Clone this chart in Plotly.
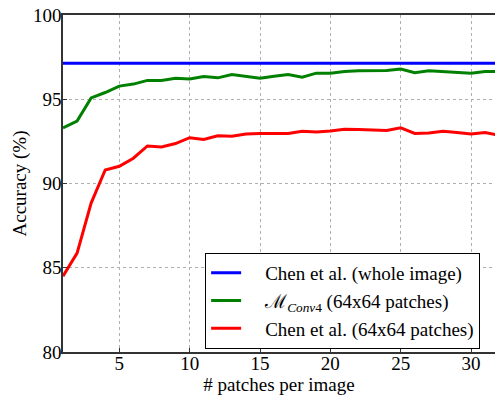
import plotly.graph_objects as go

patches = list(range(1, 33))
chen_whole = 97.13
mconv4 = [93.3, 93.7, 95.08, 95.4, 95.78, 95.9, 96.12, 96.12, 96.24, 96.2,
          96.35, 96.27, 96.47, 96.37, 96.25, 96.37, 96.47, 96.31, 96.55, 96.55,
          96.65, 96.69, 96.71, 96.71, 96.79, 96.57, 96.69, 96.65, 96.61, 96.55,
          96.65, 96.65]
chen_patches = [84.5, 85.87, 88.84, 90.8, 91.02, 91.5, 92.23, 92.17, 92.37, 92.72,
                92.61, 92.83, 92.81, 92.94, 92.96, 92.95, 92.97, 93.1, 93.06, 93.12,
                93.22, 93.2, 93.16, 93.14, 93.3, 92.97, 93.0, 93.1, 93.02, 92.94,
                93.02, 92.86]
x_ticks = [5, 10, 15, 20, 25, 30]
y_ticks = [80, 85, 90, 95, 100]

font_family = "Liberation Serif, Times New Roman, serif"
pad = "\u00a0\u00a0\u00a0\u00a0"

fig = go.Figure()
fig.add_trace(go.Scatter(x=patches, y=[chen_whole] * len(patches), mode="lines",
                         line=dict(color="#0000ff", width=3),
                         name=pad + "Chen et al. (whole image)"))
fig.add_trace(go.Scatter(x=patches, y=mconv4, mode="lines",
                         line=dict(color="#008000", width=3),
                         name=pad + "ℳ<sub><i>Conv</i>4</sub> (64x64 patches)"))
fig.add_trace(go.Scatter(x=patches, y=chen_patches, mode="lines",
                         line=dict(color="#ff0000", width=3),
                         name=pad + "Chen et al. (64x64 patches)"))

axis_common = dict(
    showgrid=True, gridcolor="#b0b0b0", griddash="dot", gridwidth=1,
    showline=True, linecolor="#333333", linewidth=1.5,
    ticks="inside", ticklen=4, tickcolor="#333333",
    tickfont=dict(family=font_family, size=19, color="#000"),
    zeroline=False, automargin=False, ticklabelposition="outside",
)

fig.update_layout(
    width=495, height=396,
    margin=dict(l=63, r=0, t=15, b=44),
    paper_bgcolor="white", plot_bgcolor="white",
    font=dict(family=font_family, size=19, color="#000"),
    xaxis=dict(range=[1, 31.7], tickvals=x_ticks, mirror=True,
               ticklabelstandoff=-7,
               title=dict(text="# patches per image", font=dict(size=19), standoff=0),
               **axis_common),
    yaxis=dict(range=[80, 100], tickvals=y_ticks,
               ticklabelstandoff=-4,
               title=dict(text="Accuracy (%)", font=dict(size=19), standoff=1),
               **axis_common),
    legend=dict(x=0.329, y=0.294, xanchor="left", yanchor="top",
                bgcolor="white", bordercolor="#000", borderwidth=1,
                font=dict(family=font_family, size=19), itemwidth=30),
    showlegend=True,
)

# remove the browser's default 8px body margin so the figure sits at the page origin
fig.write_html("out.html", config={"displayModeBar": False},
               post_script="document.body.style.margin='0';")
